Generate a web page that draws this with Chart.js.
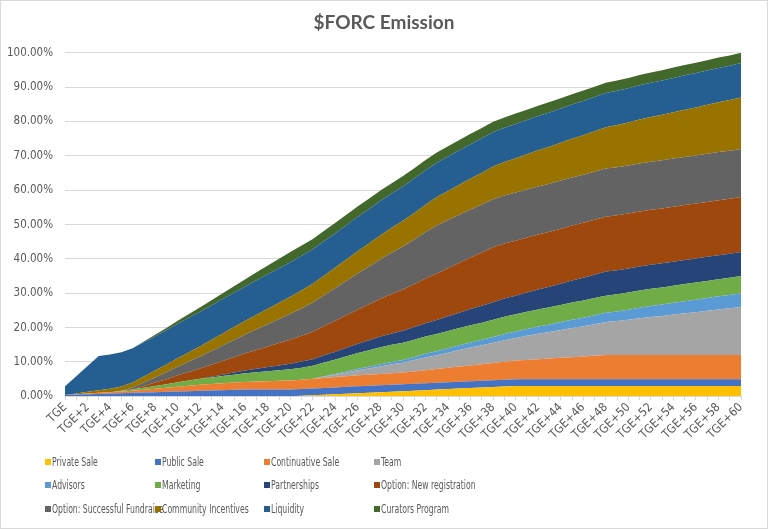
<!DOCTYPE html>
<html>
<head>
<meta charset="utf-8">
<script src="https://cdn.jsdelivr.net/npm/chart.js@4.4.1/dist/chart.umd.min.js"></script>
<style>
html,body{margin:0;padding:0;background:#fff;}
#wrap{position:relative;width:768px;height:529px;overflow:hidden;}
#c{position:absolute;left:0;top:0;}
#frame{position:absolute;left:0;top:0;width:768px;height:529px;box-sizing:border-box;border:1px solid #d9d9d9;pointer-events:none;}
#legend{position:absolute;left:0;top:0;width:768px;height:529px;pointer-events:none;}
.li{position:absolute;white-space:nowrap;font-size:13px;font-family:'Liberation Sans Narrow','DejaVu Sans Condensed',sans-serif;color:#595959;line-height:12px;height:12px;}
.li i{position:absolute;left:0;top:3px;width:6px;height:6px;z-index:2;}
.li span{position:absolute;left:7px;top:0;transform:scaleX(0.66);transform-origin:0 50%;}
</style>
</head>
<body>
<div id="wrap">
<canvas id="c" width="768" height="529"></canvas>
<div id="legend"></div>
<div id="frame"></div>
</div>
<script>
const FONT = "'Liberation Sans Narrow','DejaVu Sans Condensed',sans-serif";

const categories = [
 'TGE','TGE+1','TGE+2','TGE+3','TGE+4','TGE+5','TGE+6','TGE+7','TGE+8','TGE+9',
 'TGE+10','TGE+11','TGE+12','TGE+13','TGE+14','TGE+15','TGE+16','TGE+17','TGE+18','TGE+19',
 'TGE+20','TGE+21','TGE+22','TGE+23','TGE+24','TGE+25','TGE+26','TGE+27','TGE+28','TGE+29',
 'TGE+30','TGE+31','TGE+32','TGE+33','TGE+34','TGE+35','TGE+36','TGE+37','TGE+38','TGE+39',
 'TGE+40','TGE+41','TGE+42','TGE+43','TGE+44','TGE+45','TGE+46','TGE+47','TGE+48','TGE+49',
 'TGE+50','TGE+51','TGE+52','TGE+53','TGE+54','TGE+55','TGE+56','TGE+57','TGE+58','TGE+59',
 'TGE+60'
];

const seriesNames = ['Private Sale','Public Sale','Continuative Sale','Team','Advisors','Marketing',
 'Partnerships','Option: New registration','Option: Successful Fundraise','Community Incentives',
 'Liquidity','Curators Program'];

const seriesColors = ['#FFC000','#4472C4','#ED7D31','#A5A5A5','#5B9BD5','#70AD47',
 '#264478','#9E480E','#636363','#997300','#255E91','#43682B'];

// values in % of total supply released (per month index)
const privateSale = [
 0,0,0,0,0,0,0,0,0,0,
 0,0,0,0,0,0,0,0,0,0,
 0,0.15,0.3,0.45,0.6,0.75,0.9,1.05,1.2,1.35,
 1.5,1.65,1.8,1.95,2.1,2.25,2.4,2.55,2.7,2.85,
 3,3,3,3,3,3,3,3,3,3,
 3,3,3,3,3,3,3,3,3,3,
 3];
const publicSale = [
 0.4,0.5,0.6,0.7,0.8,0.9,1.0,1.1,1.2,1.3,
 1.4,1.5,1.6,1.7,1.8,1.9,2,2,2,2,
 2,2,2,2,2,2,2,2,2,2,
 2,2,2,2,2,2,2,2,2,2,
 2,2,2,2,2,2,2,2,2,2,
 2,2,2,2,2,2,2,2,2,2,
 2];
const continuativeSale = [
 0,0.1,0.2,0.3,0.4,0.5,0.6,0.8,1.0,1.2,
 1.4,1.6,1.8,1.9,2.0,2.1,2.2,2.3,2.4,2.5,
 2.6,2.7,2.8,2.9,3.0,3.1,3.2,3.25,3.3,3.35,
 3.4,3.6,3.8,4.0,4.2,4.4,4.6,4.8,5.0,5.2,
 5.4,5.6,5.8,6.0,6.2,6.4,6.6,6.8,7,7,
 7,7,7,7,7,7,7,7,7,7,
 7];
const team = [
 0,0,0,0,0,0,0,0,0,0,
 0,0,0,0,0,0,0,0,0,0,
 0,0,0,0.4,0.7,1.1,1.5,1.8,2.2,2.6,
 2.9,3.3,3.7,4.0,4.4,4.8,5.2,5.5,5.9,6.3,
 6.6,7.0,7.4,7.7,8.1,8.5,8.8,9.2,9.6,9.9,
 10.3,10.7,11.1,11.4,11.8,12.2,12.5,12.9,13.3,13.6,
 14];
const advisors = [
 0,0,0,0,0,0,0,0,0,0,
 0,0,0,0,0,0,0,0,0,0,
 0,0,0,0.1,0.2,0.3,0.4,0.5,0.6,0.7,
 0.8,0.9,1.1,1.2,1.3,1.4,1.5,1.6,1.7,1.8,
 1.9,2.0,2.1,2.2,2.3,2.4,2.5,2.6,2.7,2.8,
 2.9,3.1,3.2,3.3,3.4,3.5,3.6,3.7,3.8,3.9,
 4];
const marketing = [
 0,0,0,0,0,0.2,0.4,0.6,0.8,1.0,
 1.3,1.5,1.7,1.9,2.1,2.3,2.5,2.7,2.9,3.1,
 3.3,3.5,3.8,4.0,4.2,4.4,4.6,4.8,5,5,
 5,5,5,5,5,5,5,5,5,5,
 5,5,5,5,5,5,5,5,5,5,
 5,5,5,5,5,5,5,5,5,5,
 5];
const partnerships = [
 0,0,0,0,0,0,0,0,0,0,
 0,0,0,0.2,0.4,0.6,0.8,1.0,1.2,1.4,
 1.6,1.8,1.9,2.1,2.3,2.5,2.7,2.9,3.1,3.3,
 3.5,3.7,3.9,4.1,4.3,4.5,4.7,4.9,5.1,5.3,
 5.4,5.6,5.8,6.0,6.2,6.4,6.6,6.8,7,7,
 7,7,7,7,7,7,7,7,7,7,
 7];
const optionNewRegistration = [
 0,0,0,0,0,0,0,0.5,1,1.5,
 2,2.5,3,3.5,4,4.5,5,5.5,6,6.5,
 7,7.5,8,8.5,9,9.5,10,10.5,11,11.5,
 12,12.5,13,13.5,14,14.5,15,15.5,16,16,
 16,16,16,16,16,16,16,16,16,16,
 16,16,16,16,16,16,16,16,16,16,
 16];
const optionSuccessfulFundraise = [
 0,0,0,0,0,0,0.5,1,1.5,2,
 2.5,3,3.5,4,4.5,5,5.5,6,6.5,7,
 7.5,8,8.5,9,9.5,10,10.5,11,11.5,12,
 12.5,13,13.5,14,14,14,14,14,14,14,
 14,14,14,14,14,14,14,14,14,14,
 14,14,14,14,14,14,14,14,14,14,
 14];
const communityIncentives = [
 0,0.25,0.5,0.75,1,1.25,1.5,1.75,2,2.25,
 2.5,2.75,3,3.25,3.5,3.75,4,4.25,4.5,4.75,
 5,5.25,5.5,5.75,6,6.25,6.5,6.75,7,7.25,
 7.5,7.75,8,8.25,8.5,8.75,9,9.25,9.5,9.75,
 10,10.25,10.5,10.75,11,11.25,11.5,11.75,12,12.25,
 12.5,12.75,13,13.25,13.5,13.75,14,14.25,14.5,14.75,
 15];
const liquidity = [
 2.5,5,7.5,10,10,10,10,10,10,10,
 10,10,10,10,10,10,10,10,10,10,
 10,10,10,10,10,10,10,10,10,10,
 10,10,10,10,10,10,10,10,10,10,
 10,10,10,10,10,10,10,10,10,10,
 10,10,10,10,10,10,10,10,10,10,
 10];
const curatorsProgram = [
 0,0,0,0,0,0,0,0.2,0.4,0.6,
 0.9,1.1,1.3,1.5,1.7,1.9,2.1,2.4,2.6,2.8,
 3,3,3,3,3,3,3,3,3,3,
 3,3,3,3,3,3,3,3,3,3,
 3,3,3,3,3,3,3,3,3,3,
 3,3,3,3,3,3,3,3,3,3,
 3];

const seriesValues = [privateSale, publicSale, continuativeSale, team, advisors, marketing,
 partnerships, optionNewRegistration, optionSuccessfulFundraise, communityIncentives,
 liquidity, curatorsProgram];

const datasets = seriesNames.map((name, i) => ({
  label: name,
  data: seriesValues[i],
  backgroundColor: seriesColors[i],
  borderColor: seriesColors[i],
  borderWidth: 0,
  pointRadius: 0,
  pointHoverRadius: 0,
  tension: 0,
  fill: i === 0 ? 'origin' : '-1'
}));

const chart = new Chart(document.getElementById('c').getContext('2d'), {
  type: 'line',
  data: { labels: categories, datasets },
  options: {
    responsive: false,
    animation: false,
    layout: { padding: { left: 0, right: 0, top: 0, bottom: 87 } },
    plugins: {
      legend: { display: false },
      tooltip: { enabled: false },
      title: {
        display: true, text: '$FORC Emission', color: '#595959',
        font: { family: "Lato, 'Open Sans', sans-serif", size: 19, weight: 'bold' },
        padding: { top: 11, bottom: 19 }
      }
    },
    scales: {
      x: {
        offset: false,
        grid: { drawOnChartArea: false, drawTicks: true, tickLength: 4, color: '#d9d9d9' },
        border: { color: '#d9d9d9' },
        ticks: {
          autoSkip: false, minRotation: 45, maxRotation: 45, padding: 0,
          color: '#595959', font: { family: FONT, size: 12 },
          callback: (v, i) => (i % 2 === 0 ? categories[i] : '')
        }
      },
      y: {
        stacked: true, min: 0, max: 100,
        grid: { color: '#d9d9d9', drawTicks: false },
        border: { display: false },
        afterFit: s => { s.width = 65; },
        ticks: {
          stepSize: 10, padding: 12, color: '#595959',
          font: { family: FONT, size: 11.5 },
          callback: v => v.toFixed(2) + '%'
        }
      },
      yRight: {
        position: 'right', display: true,
        grid: { display: false }, border: { display: false },
        ticks: { display: false },
        afterFit: s => { s.width = 27; }
      }
    }
  }
});

// legend (4 columns x 3 rows), built from the chart's datasets
const legend = document.getElementById('legend');
const colX = [45, 155, 264, 374];
const rowY = [462, 485, 509];
chart.data.datasets.forEach((ds, i) => {
  const d = document.createElement('div');
  d.className = 'li';
  d.style.left = colX[i % 4] + 'px';
  d.style.top = (rowY[Math.floor(i / 4)] - 6) + 'px';
  d.style.zIndex = String(i);
  const box = document.createElement('i');
  box.style.background = ds.backgroundColor;
  const t = document.createElement('span');
  t.textContent = ds.label;
  d.appendChild(box); d.appendChild(t);
  legend.appendChild(d);
});
</script>
</body>
</html>
